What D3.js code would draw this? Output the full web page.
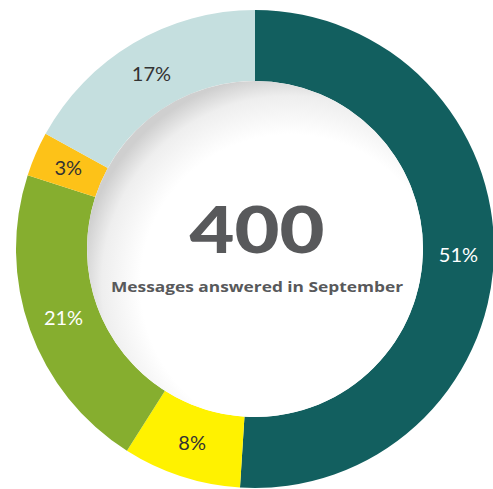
<!DOCTYPE html>
<html>
<head>
<meta charset="utf-8">
<script src="https://cdn.jsdelivr.net/npm/d3@7"></script>
<style>
  html, body { margin: 0; padding: 0; background: #fff; }
  svg { display: block; }
</style>
</head>
<body>
<svg id="chart" width="493" height="489"></svg>
<script>
// slices in clockwise order from 12 o'clock
var categories = ["a", "b", "c", "d", "e"];
var values = [51, 8, 21, 3, 17];
var labels = ["51%", "8%", "21%", "3%", "17%"];
var colors = ["#125f5f", "#fff200", "#86ae2f", "#fdc218", "#c5dfdf"];
var labelColors = ["#ffffff", "#333333", "#ffffff", "#333333", "#333333"];
var total = "400";
var caption = "Messages answered in September";

var svg = d3.select("#chart");
var cx = 255, cy = 249;
var outerR = 239, innerR = 168;

var defs = svg.append("defs");
var grad = defs.append("radialGradient")
    .attr("id", "hole")
    .attr("cx", "0.6").attr("cy", "0.6").attr("r", "0.62")
    .attr("fx", "0.62").attr("fy", "0.62");
grad.append("stop").attr("offset", "0.72").attr("stop-color", "#ffffff");
grad.append("stop").attr("offset", "0.9").attr("stop-color", "#eeeeee");
grad.append("stop").attr("offset", "1").attr("stop-color", "#cfcfcf");

var data = categories.map(function(c, i) {
  return {key: c, value: values[i], label: labels[i], color: colors[i], tc: labelColors[i]};
});

var pie = d3.pie().sort(null).value(function(d) { return d.value; });
var arc = d3.arc().innerRadius(innerR).outerRadius(outerR);
var labelArc = d3.arc().innerRadius((innerR + outerR) / 2).outerRadius((innerR + outerR) / 2);

var g = svg.append("g").attr("transform", "translate(" + cx + "," + cy + ")");

g.selectAll("path.slice")
  .data(pie(data))
  .enter()
  .append("path")
  .attr("class", "slice")
  .attr("d", arc)
  .attr("fill", function(d) { return d.data.color; });

g.append("circle")
  .attr("r", innerR)
  .attr("fill", "url(#hole)");

g.selectAll("text.pct")
  .data(pie(data))
  .enter()
  .append("text")
  .attr("class", "pct")
  .attr("transform", function(d) {
    var c = labelArc.centroid(d);
    return "translate(" + c[0] + "," + c[1] + ")";
  })
  .attr("text-anchor", "middle")
  .attr("dy", "0.35em")
  .attr("font-family", "Lato, 'Open Sans', sans-serif")
  .attr("font-weight", 400)
  .attr("font-size", 20)
  .attr("fill", function(d) { return d.data.tc; })
  .text(function(d) { return d.data.label; });

g.append("text")
  .attr("x", 2)
  .attr("y", 4)
  .attr("text-anchor", "middle")
  .attr("font-family", "Lato, 'Open Sans', sans-serif")
  .attr("font-weight", 900)
  .attr("font-size", 64)
  .attr("fill", "#58595b")
  .attr("textLength", 135)
  .attr("lengthAdjust", "spacingAndGlyphs")
  .text(total);

g.append("text")
  .attr("x", 2)
  .attr("y", 43)
  .attr("text-anchor", "middle")
  .attr("font-family", "'Open Sans', Lato, sans-serif")
  .attr("font-weight", 700)
  .attr("font-size", 15)
  .attr("fill", "#58595b")
  .attr("textLength", 292)
  .attr("lengthAdjust", "spacingAndGlyphs")
  .text(caption);
</script>
</body>
</html>
